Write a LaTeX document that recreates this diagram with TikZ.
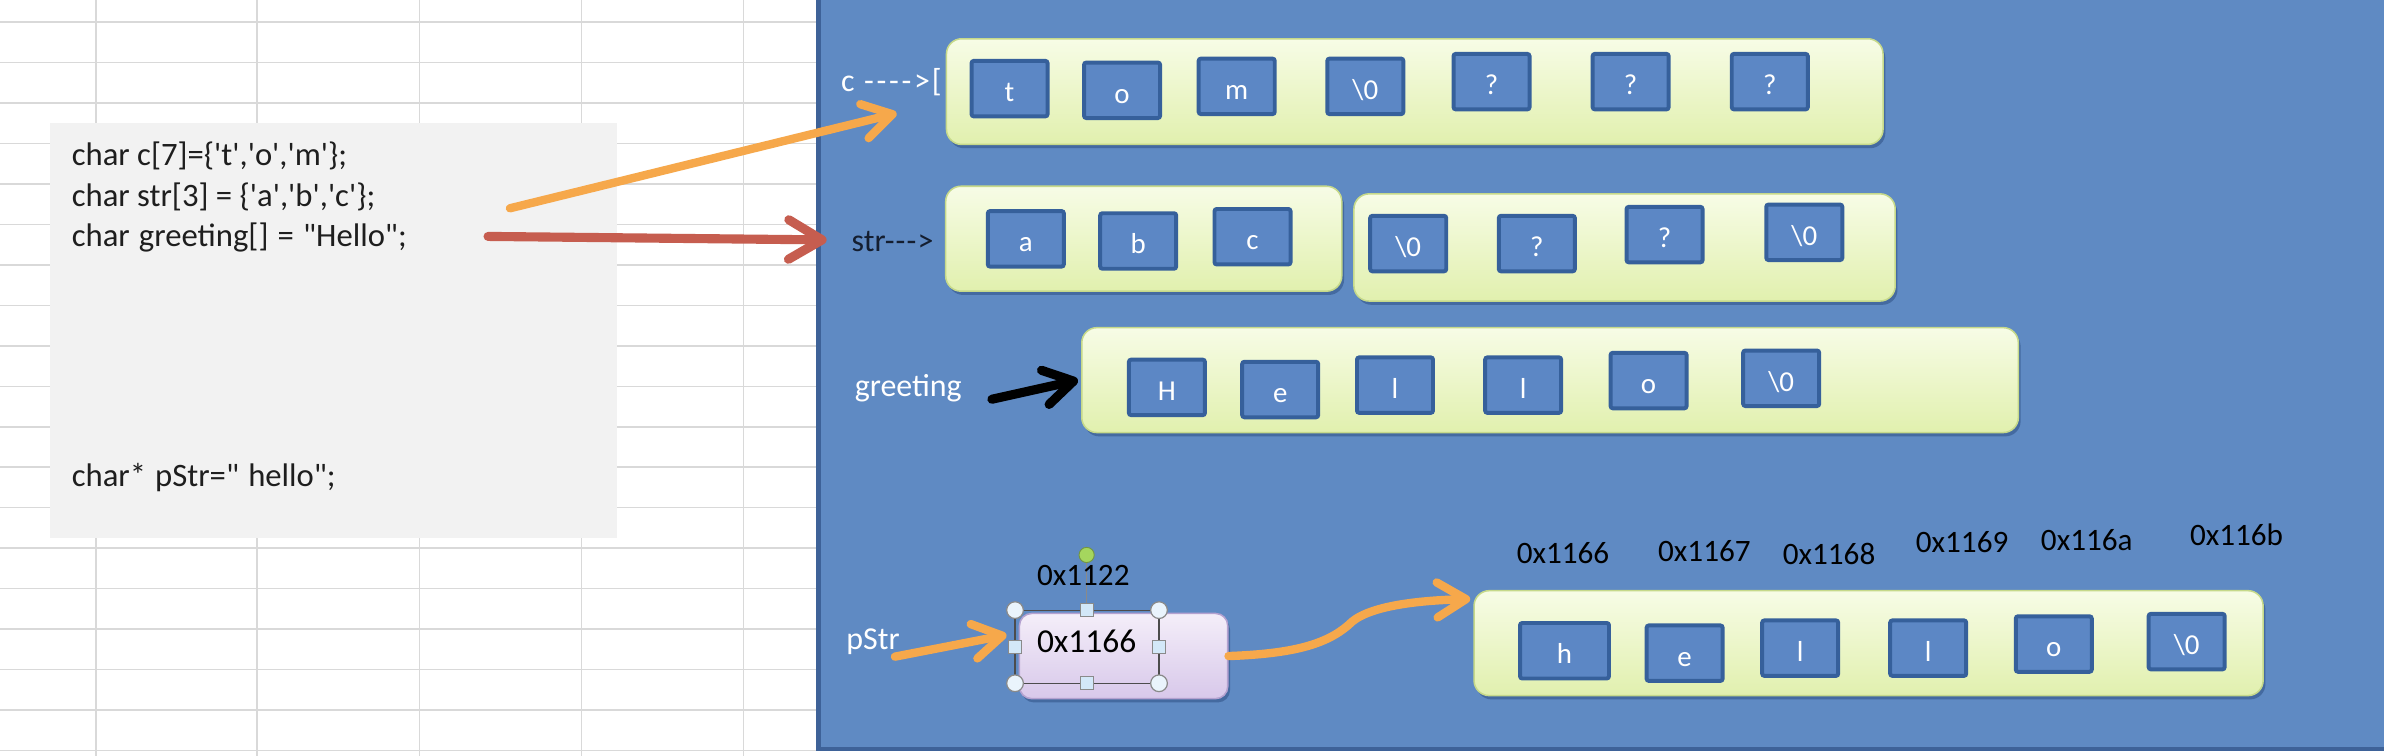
\documentclass[tikz,border=0pt]{standalone}
\usetikzlibrary{arrows.meta,shadows}
\font\codefont="Carlito" at 21.5bp
\font\labfont="Carlito" at 21bp
\font\cellfont="Carlito" at 19bp
\font\addrfont="Carlito" at 20.5bp
\font\boxfont="Carlito" at 22bp
\definecolor{gridc}{HTML}{D9D9D9}
\definecolor{codebg}{HTML}{F2F2F2}
\definecolor{codetx}{HTML}{1E1E1E}
\definecolor{panelc}{HTML}{5F8AC3}
\definecolor{panelb}{HTML}{3E6298}
\definecolor{rowtop}{HTML}{F7FCE6}
\definecolor{rowbot}{HTML}{E1F0AE}
\definecolor{rowedge}{HTML}{C6D98A}
\definecolor{cellf}{HTML}{5C87C5}
\definecolor{celle}{HTML}{36609B}
\definecolor{orangec}{HTML}{F6A84B}
\definecolor{redc}{HTML}{C65D4F}
\definecolor{lavtop}{HTML}{F4EEF9}
\definecolor{lavbot}{HTML}{D8C8EA}
\definecolor{lavedge}{HTML}{B4A2D0}
\definecolor{handlef}{HTML}{EAF4FC}
\definecolor{handlesq}{HTML}{D3E8F8}
\definecolor{handlee}{HTML}{8A8A8A}
\definecolor{greendot}{HTML}{A5D65E}
\definecolor{navytx}{HTML}{141E30}
\tikzset{
 gridline/.style={draw=gridc, line width=1bp},
 rowbox/.style={rectangle, rounded corners=10bp, draw=rowedge, line width=1bp, top color=rowtop, bottom color=rowbot,
   drop shadow={shadow xshift=1.5bp, shadow yshift=-2.5bp, fill=panelb, opacity=0.8}, inner sep=0pt},
 cellbox/.style={rectangle, rounded corners=1.5bp, draw=celle, line width=2.6bp, fill=cellf,
   minimum width=50bp, minimum height=36.5bp, inner sep=0pt, text=white, font=\cellfont,
   text height=17bp, text depth=0bp},
 codeline/.style={anchor=base west, inner sep=0pt, text=codetx, font=\codefont},
 lab/.style={anchor=base west, inner sep=0pt, font=\labfont},
 addr/.style={anchor=base, inner sep=0pt, text=black, font=\addrfont},
 fatarrow/.style={line width=5.5bp, line cap=round, line join=round, -{Straight Barb[length=19bp,width=23bp,round]}},
 handlecirc/.style={circle, draw=handlee, line width=0.8bp, fill=handlef, minimum size=11bp, inner sep=0pt},
 handlesqr/.style={rectangle, draw=handlee, line width=0.8bp, fill=handlesq, minimum size=8.5bp, inner sep=0pt},
}
\begin{document}
\begin{tikzpicture}[x=1bp,y=-1bp]
\useasboundingbox (0,0) rectangle (1568,497.2);
\fill[white] (0,0) rectangle (1568,497.2);
% spreadsheet grid
\foreach \gx in {63,169,276,382.5,489} \draw[gridline] (\gx,0) -- (\gx,497.2);
\foreach \k in {0,...,18} \draw[gridline] (0,14.5+26.62*\k) -- (537,14.5+26.62*\k);
% code box
\node[rectangle, fill=codebg, minimum width=373bp, minimum height=273bp, inner sep=0pt] (codebox) at (219.5,217.5) {};
\node[codeline] (l1) at (47,109) {char c[7]=\char123\relax't','o','m'\char125\relax;};
\node[codeline] (l2) at (47,135.5) {char str[3] = \char123\relax'a','b','c'\char125\relax;};
\node[codeline] (l3) at (47,162) {\spaceskip=6bp\relax char greeting[] = "Hello";};
\node[codeline] (l4) at (47,320) {\spaceskip=6bp\relax char* pStr=" hello";};
% blue panel
\fill[panelc] (537,0) rectangle (1568,492.5);
\draw[panelb, line width=3bp] (538.5,0) -- (538.5,492.5) -- (1568,492.5);
% row c
\node[rowbox, minimum width=616bp, minimum height=69.5bp] (crow) at (930.5,60.25) {};
\node[cellbox] (c1) at (664,58.3) {t};
\node[cellbox] (c2) at (738,59.4) {o};
\node[cellbox] (c3) at (813.4,56.8) {m};
\node[cellbox] (c4) at (898,56.8) {\char92\relax0};
\node[cellbox] (c5) at (981,53.7) {?};
\node[cellbox] (c6) at (1072.5,53.7) {?};
\node[cellbox] (c7) at (1164,53.7) {?};
% row str
\node[rowbox, minimum width=260.5bp, minimum height=69bp] (srowa) at (752.25,157) {};
\node[rowbox, minimum width=356bp, minimum height=70.5bp] (srowb) at (1068.5,162.75) {};
\node[cellbox] (s1) at (674.7,157.1) {a};
\node[cellbox] (s2) at (748.6,158.5) {b};
\node[cellbox] (s3) at (823.8,155.7) {c};
\node[cellbox] (s4) at (926.2,160.2) {\char92\relax0};
\node[cellbox] (s5) at (1010.8,160.2) {?};
\node[cellbox] (s6) at (1094.8,154.3) {?};
\node[cellbox] (s7) at (1186.7,152.8) {\char92\relax0};
% row greeting
\node[rowbox, minimum width=616bp, minimum height=69bp] (grow) at (1019.5,250) {};
\node[cellbox] (g1) at (767.5,254.8) {H};
\node[cellbox] (g2) at (842,256.2) {e};
\node[cellbox] (g3) at (917.5,253.3) {l};
\node[cellbox] (g4) at (1001.8,253.3) {l};
\node[cellbox] (g5) at (1084.3,250.3) {o};
\node[cellbox] (g6) at (1171.5,248.8) {\char92\relax0};
% row hello
\node[rowbox, minimum width=519bp, minimum height=69bp] (hrow) at (1229,423) {};
\node[cellbox, minimum width=58.5bp] (h1) at (1029,428) {h};
\node[cellbox] (h2) at (1108,429.6) {e};
\node[cellbox] (h3) at (1184,426.3) {l};
\node[cellbox] (h4) at (1268.2,426.3) {l};
\node[cellbox] (h5) at (1350.8,423.6) {o};
\node[cellbox] (h6) at (1438.2,422) {\char92\relax0};
% addresses
\node[addr] (a1) at (1028,370.5) {0x1166};
\node[addr] (a2) at (1121,369.4) {0x1167};
\node[addr] (a3) at (1203,371) {0x1168};
\node[addr] (a4) at (1290.5,363.5) {0x1169};
\node[addr] (a5) at (1372.5,362.2) {0x116a};
\node[addr] (a6) at (1471,358.9) {0x116b};
% labels
\node[lab, text=white] (clab) at (553,60) {c\kern1.5bp\ -\kern1.8bp-\kern1.8bp-\kern1.8bp-\kern1.8bp>\kern1.2bp[};
\node[lab, text=navytx] (slab) at (560,165.5) {str-\kern0.8bp-\kern0.8bp-\kern0.8bp>};
\node[lab, text=white] (glab) at (562,261) {greeting};
\node[lab, text=white] (plab) at (556.5,427) {pStr};
% pStr box with selection handles
\node[rectangle, rounded corners=8bp, draw=lavedge, line width=1bp, top color=lavtop, bottom color=lavbot,
  minimum width=137bp, minimum height=56bp, inner sep=0pt,
  drop shadow={shadow xshift=1.5bp, shadow yshift=-2.5bp, fill=panelb, opacity=0.8}] (pbox) at (739,431.5) {};
\node[anchor=base, inner sep=0pt, font=\boxfont, text=black] (pval) at (714.7,429.3) {0x1166};
\coordinate (selA) at (667.6,401.3);
\coordinate (selB) at (762.3,449.4);
\draw[black!70, line width=0.8bp] (selA) rectangle (selB);
\node[circle, fill=greendot, draw=greendot!70!black, line width=0.6bp, minimum size=10bp, inner sep=0pt] (rot) at (714.7,365) {};
\node[handlesqr] (hsT) at (714.7,401.3) {};
\draw[handlee, line width=0.8bp] (rot) -- (hsT);
\node[handlesqr] (hsB) at (714.7,449.4) {};
\node[handlesqr] (hsL) at (667.6,425.7) {};
\node[handlesqr] (hsR) at (762.3,425.7) {};
\node[handlecirc] (hc1) at (667.6,401.3) {};
\node[handlecirc] (hc2) at (762.3,401.3) {};
\node[handlecirc] (hc3) at (667.6,449.4) {};
\node[handlecirc] (hc4) at (762.3,449.4) {};
\node[anchor=base, inner sep=0pt, font=\addrfont, text=black] (paddr) at (712.5,384.8) {0x1122};
% arrows
\coordinate (o1s) at (335.4,137);
\coordinate (o1e) at (589.7,74.5);
\draw[fatarrow, orangec] (o1s) -- (o1e);
\coordinate (r1s) at (321,155.5);
\coordinate (r1e) at (543.7,157.8);
\draw[redc, line width=6bp, line cap=round, -{Straight Barb[length=22bp,width=26bp,round]}] (r1s) -- (r1e);
\coordinate (b1s) at (652.4,262.6);
\draw[fatarrow, black, line width=6bp] (b1s) -- ([xshift=-2bp]grow.west);
\coordinate (p1s) at (588.6,431.9);
\coordinate (p1e) at (662,417.6);
\draw[fatarrow, orangec] (p1s) -- (p1e);
\coordinate (p2m) at (887,411);
\coordinate (p2e) at (967,394);
\draw[fatarrow, orangec] (pbox.east) .. controls (850,430) and (872,424) .. (p2m)
   .. controls (898,399) and (930,395) .. (p2e);
\end{tikzpicture}
\end{document}
